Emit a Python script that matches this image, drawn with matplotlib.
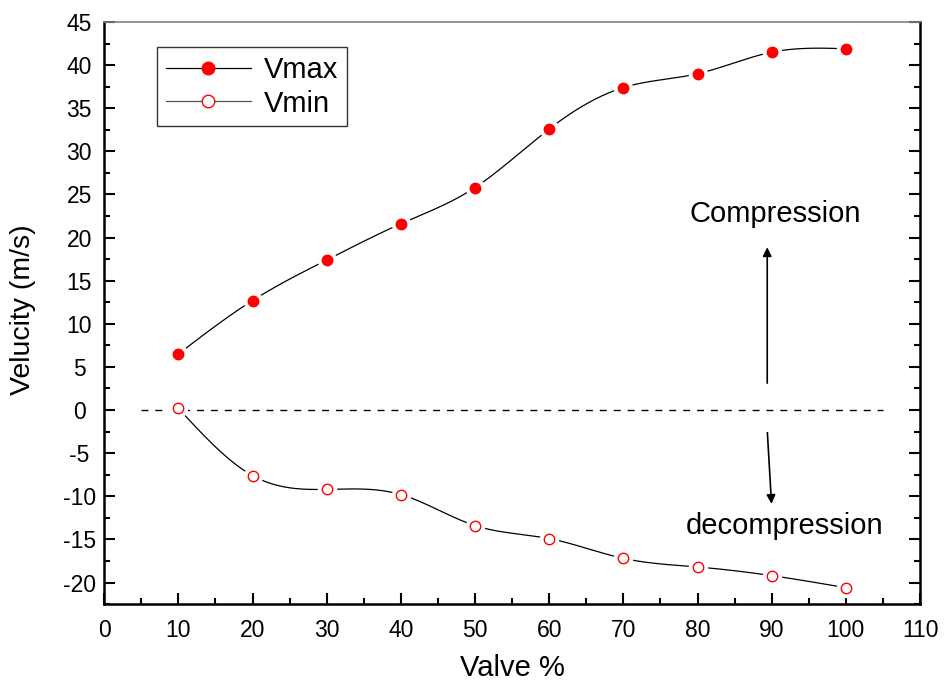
import numpy as np
import matplotlib
matplotlib.use("Agg")
import matplotlib.pyplot as plt
from matplotlib.ticker import MultipleLocator

valve = [10, 20, 30, 40, 50, 60, 70, 80, 90, 100]
v_max = [6.5, 12.7, 17.4, 21.6, 25.8, 32.6, 37.4, 39.0, 41.5, 41.9]
v_min = [0.2, -7.6, -9.2, -9.8, -13.4, -14.9, -17.2, -18.2, -19.2, -20.6]

plt.rcParams['font.family'] = ['Liberation Sans', 'DejaVu Sans']
plt.rcParams['axes.unicode_minus'] = False


def natural_spline(x, y, n=400):
    """Natural cubic spline through the points (for drawing the smooth line)."""
    x = np.asarray(x, float)
    y = np.asarray(y, float)
    k = len(x)
    h = np.diff(x)
    A = np.zeros((k, k))
    b = np.zeros(k)
    A[0, 0] = A[-1, -1] = 1
    for i in range(1, k - 1):
        A[i, i - 1] = h[i - 1]
        A[i, i] = 2 * (h[i - 1] + h[i])
        A[i, i + 1] = h[i]
        b[i] = 3 * ((y[i + 1] - y[i]) / h[i] - (y[i] - y[i - 1]) / h[i - 1])
    c = np.linalg.solve(A, b)
    xs = np.linspace(x[0], x[-1], n)
    idx = np.clip(np.searchsorted(x, xs) - 1, 0, k - 2)
    dx = xs - x[idx]
    bb = (y[idx + 1] - y[idx]) / h[idx] - h[idx] * (2 * c[idx] + c[idx + 1]) / 3
    dd = (c[idx + 1] - c[idx]) / (3 * h[idx])
    ys = y[idx] + bb * dx + c[idx] * dx ** 2 + dd * dx ** 3
    return xs, ys


fig, ax = plt.subplots(figsize=(9.47, 6.88), dpi=100)
fig.subplots_adjust(left=0.110, right=0.9715, top=0.968, bottom=0.122)

for vals, face in [(v_max, 'red'), (v_min, 'white')]:
    xs, ys = natural_spline(valve, vals)
    ax.plot(xs, ys, color='black', lw=0.9, zorder=2)
    ax.plot(valve, vals, 'o', ms=13, color='white', mec='white', zorder=3)
    ax.plot(valve, vals, 'o', ms=7.5, mfc=face, mec='red', mew=1.0, zorder=4)

ax.plot([5, 105], [0, 0], color='black', lw=1.0, ls=(0, (5, 5)), zorder=1)

# legend proxies
h1, = ax.plot([], [], '-o', color='black', lw=0.9, ms=9, mfc='red', mec='red')
h2, = ax.plot([], [], '-o', color='#555555', lw=0.9, ms=9, mfc='white', mec='red')
leg = ax.legend([h1, h2], ['Vmax', 'Vmin'], loc='upper left',
                bbox_to_anchor=(0.065, 0.957), borderaxespad=0, fontsize=21,
                frameon=True, fancybox=False, edgecolor='black',
                handlelength=2.9, borderpad=0.3, labelspacing=0.2,
                handletextpad=0.45)
leg.get_frame().set_linewidth(1.0)

ax.annotate('', xy=(89.4, 19.2), xytext=(89.4, 2.8),
            arrowprops=dict(arrowstyle='-|>', color='black', lw=1.2,
                            mutation_scale=13))
ax.annotate('', xy=(90.0, -11.2), xytext=(89.4, -2.3),
            arrowprops=dict(arrowstyle='-|>', color='black', lw=1.2,
                            mutation_scale=13))
ax.text(90.5, 22.7, 'Compression', fontsize=21, ha='center', va='center')
ax.text(91.7, -13.4, 'decompression', fontsize=21, ha='center', va='center')

ax.set_xlim(0, 110)
ax.set_ylim(-22.5, 45)
ax.xaxis.set_major_locator(MultipleLocator(10))
ax.xaxis.set_minor_locator(MultipleLocator(5))
ax.yaxis.set_major_locator(MultipleLocator(5))
ax.yaxis.set_minor_locator(MultipleLocator(2.5))
ax.tick_params(which='both', direction='in', left=True, right=True,
               top=False, bottom=True, width=1.5, labelsize=16.5)
ax.tick_params(which='major', length=8)
ax.tick_params(which='minor', length=4)
ax.tick_params(axis='x', pad=11)
ax.tick_params(axis='y', pad=18)
for lbl in ax.get_yticklabels():
    lbl.set_horizontalalignment('center')

for side in ['left', 'bottom', 'right']:
    ax.spines[side].set_linewidth(1.8)
    ax.spines[side].set_color('black')
ax.spines['top'].set_color('#808080')
ax.spines['top'].set_linewidth(1.2)

ax.set_xlabel('Valve %', fontsize=21)
ax.set_ylabel('Velucity (m/s)', fontsize=20.5)
ax.xaxis.set_label_coords(0.5, -0.085)
ax.xaxis.label.set_verticalalignment('top')
ax.yaxis.set_label_coords(-0.083, 0.505)

fig.savefig('out.png', dpi=100)
